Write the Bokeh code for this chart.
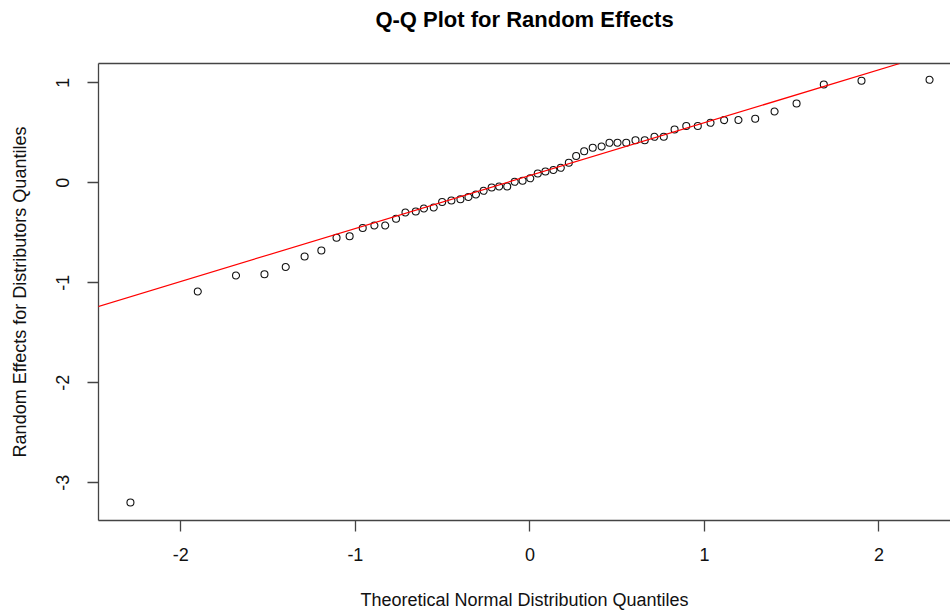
from bokeh.plotting import figure
from bokeh.models import Range1d, Slope, LinearAxis, FixedTicker
from bokeh.embed import file_html
from bokeh.resources import INLINE

# Theoretical normal quantiles (x) and sorted random-effect estimates (y)
theoretical_q = [
    -2.289, -1.903, -1.684, -1.521, -1.399, -1.291, -1.195, -1.108, -1.033, -0.958,
    -0.891, -0.829, -0.767, -0.713, -0.654, -0.607, -0.551, -0.503, -0.450, -0.398,
    -0.352, -0.309, -0.265, -0.219, -0.176, -0.130, -0.087, -0.042, 0.002, 0.045,
    0.089, 0.135, 0.177, 0.223, 0.265, 0.311, 0.360, 0.411, 0.456, 0.502,
    0.552, 0.605, 0.658, 0.714, 0.767, 0.829, 0.896, 0.962, 1.035, 1.113,
    1.195, 1.291, 1.402, 1.528, 1.684, 1.900, 2.290,
]
random_effects = [
    -3.197, -1.087, -0.927, -0.914, -0.842, -0.737, -0.677, -0.549, -0.534, -0.452,
    -0.427, -0.427, -0.359, -0.297, -0.287, -0.257, -0.247, -0.192, -0.177, -0.164,
    -0.142, -0.117, -0.080, -0.047, -0.037, -0.037, 0.010, 0.020, 0.045, 0.093,
    0.113, 0.128, 0.150, 0.201, 0.268, 0.316, 0.351, 0.363, 0.400, 0.401,
    0.401, 0.426, 0.426, 0.460, 0.460, 0.533, 0.568, 0.568, 0.600, 0.627,
    0.628, 0.640, 0.713, 0.793, 0.983, 1.020, 1.030,
]

# Reference line through the quartiles
line_intercept = 0.072
line_slope = 0.529

x_ticks = [-2, -1, 0, 1, 2]
y_ticks = [-3, -2, -1, 0, 1]
x_tick_labels = ["-2", "-1", "0", "1", "2"]
y_tick_labels = ["-3", "-2", "-1", "0", "1"]

TITLE = "Q-Q Plot for Random Effects"
X_LABEL = "Theoretical Normal Distribution Quantiles"
Y_LABEL = "Random Effects for Distributors Quantiles"

FONT = "Liberation Sans"
FRAME = "#444444"

p = figure(
    width=950, height=613,
    x_range=Range1d(-2.472, 2.410), y_range=Range1d(-3.377, 1.193),
    output_backend="svg", toolbar_location=None,
    min_border_left=98, min_border_right=0, min_border_top=63, min_border_bottom=93,
    x_axis_label=X_LABEL, y_axis_label=Y_LABEL,
)
p.outline_line_color = None
p.xgrid.visible = False
p.ygrid.visible = False
p.background_fill_color = "white"
p.border_fill_color = "white"

for ax in (p.xaxis[0], p.yaxis[0]):
    ax.axis_line_color = FRAME
    ax.axis_line_width = 1.3
    ax.major_tick_line_color = FRAME
    ax.major_tick_line_width = 1.3
    ax.major_tick_in = 0
    ax.major_tick_out = 11
    ax.minor_tick_line_color = None
    ax.major_label_text_font = FONT
    ax.major_label_text_font_size = "18px"
    ax.major_label_text_color = "#111111"
    ax.axis_label_text_font = FONT
    ax.axis_label_text_font_size = "18px"
    ax.axis_label_text_font_style = "normal"
    ax.axis_label_text_color = "#111111"

p.xaxis[0].ticker = FixedTicker(ticks=x_ticks)
p.yaxis[0].ticker = FixedTicker(ticks=y_ticks)
p.xaxis[0].major_label_overrides = {float(t): s for t, s in zip(x_ticks, x_tick_labels)}
p.yaxis[0].major_label_overrides = {float(t): s for t, s in zip(y_ticks, y_tick_labels)}
p.xaxis[0].major_label_standoff = 16
p.xaxis[0].axis_label_standoff = 26
p.yaxis[0].major_label_standoff = 18
p.yaxis[0].major_label_orientation = "vertical"
p.yaxis[0].axis_label_standoff = 24

# Top edge of the plot box, carrying the chart title
top = LinearAxis(
    ticker=FixedTicker(ticks=[]), axis_line_color=FRAME, axis_line_width=1.3,
    major_tick_line_color=None, minor_tick_line_color=None,
    major_tick_out=0, major_tick_in=0,
    major_label_text_font_size="0px",
    axis_label=TITLE, axis_label_text_font=FONT, axis_label_text_font_size="22px",
    axis_label_text_font_style="bold", axis_label_text_color="#000000",
    axis_label_standoff=32,
)
p.add_layout(top, "above")

p.add_layout(Slope(gradient=line_slope, y_intercept=line_intercept,
                   line_color="#FF0000", line_width=1.2))

p.scatter(theoretical_q, random_effects, marker="circle", size=7,
          fill_color=None, line_color="#111111", line_width=1.1)

open("out.html", "w").write(file_html(p, INLINE))
